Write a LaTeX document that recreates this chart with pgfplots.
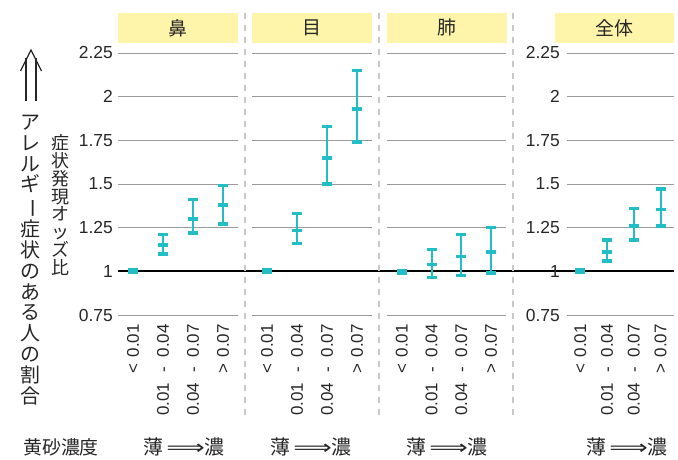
\documentclass[border=0pt]{standalone}
\usepackage{fontspec}
\setmainfont{Liberation Sans}
\newfontfamily\jp{Noto Sans CJK JP}
\newfontfamily\djv{DejaVu Sans}
\usepackage{graphicx}
\usepackage{pgfplots}
\pgfplotsset{compat=1.18}
\definecolor{errc}{HTML}{22BEC8}
\definecolor{titley}{HTML}{FFF5AA}
\definecolor{gridg}{HTML}{9A9A9A}
\definecolor{dashg}{HTML}{C8C8C8}
\newcommand{\rng}[2]{#1\hspace{10bp}-\hspace{10bp}#2}
\pgfplotsset{
  panel/.style={
    scale only axis, height=262bp,
    ymin=0.75, ymax=2.25, xmin=-0.5, xmax=3.5,
    ytick={0.75,1,1.25,1.5,1.75,2,2.25},
    yticklabels={0.75,1,1.25,1.5,1.75,2,2.25},
    ymajorgrids, grid style={draw=gridg, line width=0.9bp},
    axis line style={draw=none}, major tick length=0pt,
    xtick={0,1,2,3},
    xticklabels={{<\hspace{6bp}0.01},{\rng{0.01}{0.04}},{\rng{0.04}{0.07}},{>\hspace{6bp}0.07}},
    xticklabel style={rotate=90, anchor=east, inner sep=0pt, font=\fontsize{17}{17}\selectfont, text=black!85},
    xticklabel shift=9bp,
    yticklabel style={anchor=east, inner sep=0pt, font=\fontsize{17.5}{17.5}\selectfont, text=black!85},
    yticklabel shift=5bp,
    clip=false,
    title style={at={(0.5,1)}, anchor=south, yshift=4bp, fill=titley, minimum height=30bp, inner sep=0pt, font=\jp\fontsize{19}{19}\selectfont, text=black!85},
  },
  eb/.style={errc, only marks, mark=-, mark size=5bp, mark options={line width=3.5bp},
    error bars/.cd, y dir=both, y explicit, error mark=-,
    error mark options={rotate=90, line width=3.5bp, mark size=5bp, errc},
    error bar style={line width=2.2bp, errc}},
}
\begin{document}
\begin{tikzpicture}
\path[use as bounding box] (0,0) rectangle (678bp,460bp);
% panel 1
\begin{axis}[panel, at={(118bp,145bp)}, anchor=south west, width=120bp,
  title={鼻}, title style={minimum width=120bp}]
\draw[line width=1.8bp, black] (axis cs:-0.5,1) -- ([xshift=14bp]axis cs:3.5,1);
\addplot+[eb] coordinates {
 (0,1) +- (0,0.008)
 (1,1.15) += (0,0.06) -= (0,0.05)
 (2,1.30) += (0,0.11) -= (0,0.08)
 (3,1.38) += (0,0.11) -= (0,0.11)
};
\end{axis}
% panel 2
\begin{axis}[panel, at={(252bp,145bp)}, anchor=south west, width=120bp, yticklabels={},
  title={目}, title style={minimum width=120bp}]
\draw[line width=1.8bp, black] (axis cs:-0.5,1) -- ([xshift=15bp]axis cs:3.5,1);
\addplot+[eb] coordinates {
 (0,1) +- (0,0.008)
 (1,1.235) += (0,0.095) -= (0,0.075)
 (2,1.65) += (0,0.18) -= (0,0.15)
 (3,1.93) += (0,0.22) -= (0,0.19)
};
\end{axis}
% panel 3
\begin{axis}[panel, at={(387bp,145bp)}, anchor=south west, width=119bp, yticklabels={},
  title={肺}, title style={minimum width=120bp}]
\draw[line width=1.8bp, black] (axis cs:-0.5,1) -- ([xshift=61bp]axis cs:3.5,1);
\addplot+[eb] coordinates {
 (0,0.995) +- (0,0.008)
 (1,1.04) += (0,0.085) -= (0,0.075)
 (2,1.086) += (0,0.124) -= (0,0.11)
 (3,1.11) += (0,0.14) -= (0,0.12)
};
\end{axis}
% panel 4
\begin{axis}[panel, at={(567bp,145bp)}, anchor=south west, width=107bp,
  yticklabel shift=7bp,
  title={全体}, title style={minimum width=119bp, xshift=-6bp}]
\draw[line width=1.8bp, black] (axis cs:-0.5,1) -- (axis cs:3.5,1);
\addplot+[eb] coordinates {
 (0,1) +- (0,0.008)
 (1,1.11) += (0,0.07) -= (0,0.05)
 (2,1.26) += (0,0.10) -= (0,0.08)
 (3,1.355) += (0,0.115) -= (0,0.095)
};
\end{axis}
% separators
\foreach \x in {245,379,513}
  \draw[dashg, line width=1.5bp, dash pattern=on 6bp off 6bp] (\x bp,447bp) -- (\x bp,43bp);
% left arrow
\draw[black!85, line width=1.2bp] (26bp,359bp) -- (26bp,402bp);
\draw[black!85, line width=1.2bp] (36bp,359bp) -- (36bp,402bp);
\draw[black!85, line width=1.2bp, line join=miter] (20.5bp,389bp) -- (31bp,410bp) -- (41.5bp,389bp);
% vertical texts
\node[align=center, inner sep=0pt, font=\jp\fontsize{20}{21}\selectfont, text=black!85] at (30bp,200bp)
 {ア\\レ\\ル\\ギ\\\rotatebox[origin=c]{-90}{ー}\\症\\状\\の\\あ\\る\\人\\の\\割\\合};
\node[align=center, inner sep=0pt, font=\jp\fontsize{18}{18}\selectfont, text=black!85] at (60bp,255bp)
 {症\\状\\発\\現\\オ\\ッ\\ズ\\比};
% bottom labels
\node[inner sep=0pt, font=\jp\fontsize{19}{19}\selectfont, text=black!85] at (61bp,13bp) {黄砂濃度};
\foreach \x in {184,311,447,627}
  \node[inner sep=0pt, font=\jp\fontsize{20}{20}\selectfont, text=black!85] at (\x bp,13bp) {薄\,\scalebox{1.35}[1]{\djv ⟹}濃};
\end{tikzpicture}
\end{document}
